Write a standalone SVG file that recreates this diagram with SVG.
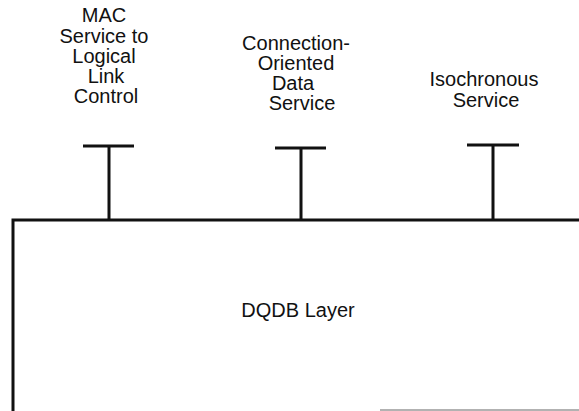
<svg xmlns="http://www.w3.org/2000/svg" width="579" height="411" viewBox="0 0 579 411">
<style>
text{font-family:"Liberation Sans",Arial,sans-serif;font-size:20px;fill:#111;text-anchor:middle}
.ln{stroke:#111;stroke-width:3;fill:none}
</style>
<rect width="579" height="411" fill="#fff"/>
<g id="layer">
<path class="ln" d="M13,411 V220 H579"/>
<line x1="380" y1="410" x2="579" y2="410" stroke="#999" stroke-width="1.5"/>
<text x="298" y="317">DQDB Layer</text>
</g>
<g id="connectors">
<path class="ln" d="M83,146 H134 M109,146 V220"/>
<path class="ln" d="M275,148 H326 M301,148 V220"/>
<path class="ln" d="M467,145 H519 M493,145 V220"/>
</g>
<g id="mac">
<text x="104" y="22">MAC</text>
<text x="104" y="43">Service to</text>
<text x="104" y="63">Logical</text>
<text x="106" y="83">Link</text>
<text x="106" y="103">Control</text>
</g>
<g id="codata">
<text x="296" y="50">Connection-</text>
<text x="296" y="70">Oriented</text>
<text x="293" y="90">Data</text>
<text x="302" y="110">Service</text>
</g>
<g id="iso">
<text x="484" y="86">Isochronous</text>
<text x="486" y="107">Service</text>
</g>
</svg>
